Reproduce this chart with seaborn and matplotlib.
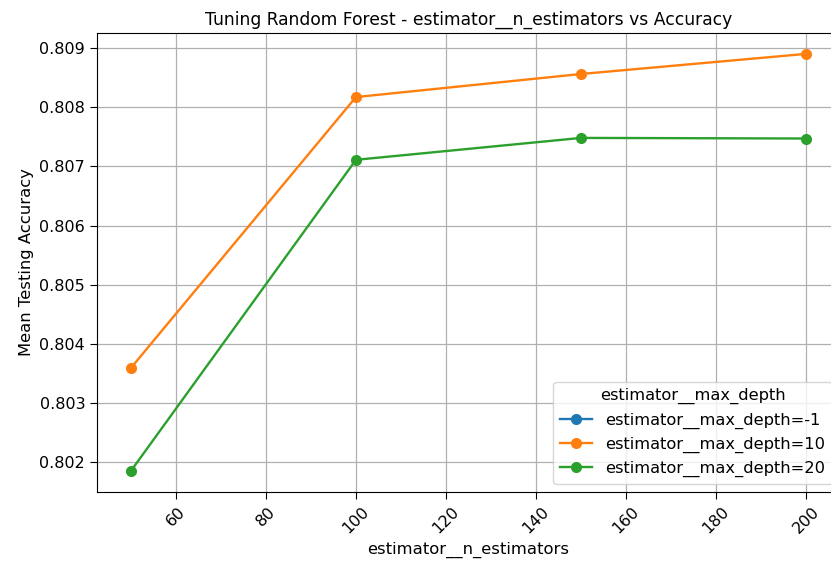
import numpy as np
import pandas as pd
import matplotlib
matplotlib.use("Agg")
import matplotlib.pyplot as plt
import seaborn as sns

n_estimators = [50, 100, 150, 200]
depth_labels = ["estimator__max_depth=-1", "estimator__max_depth=10", "estimator__max_depth=20"]
acc_depth_m1 = [np.nan, np.nan, np.nan, np.nan]
acc_depth_10 = [0.80359, 0.80817, 0.80856, 0.80890]
acc_depth_20 = [0.80185, 0.80711, 0.80748, 0.80747]

rows = []
for lab, vals in zip(depth_labels, [acc_depth_m1, acc_depth_10, acc_depth_20]):
    for n, v in zip(n_estimators, vals):
        rows.append({"n": n, "acc": v, "depth": lab})
df = pd.DataFrame(rows)

fig = plt.figure(figsize=(8.31, 5.67), dpi=100)
ax = fig.add_axes([97/831, 1-492/567, (840-97)/831, (492-33)/567])
palette = dict(zip(depth_labels, ["#1f77b4", "#ff7f0e", "#2ca02c"]))
for lab, vals in zip(depth_labels, [acc_depth_m1, acc_depth_10, acc_depth_20]):
    sub = df[df["depth"] == lab]
    if sub["acc"].notna().any():
        sns.lineplot(data=sub, x="n", y="acc", marker="o", markersize=8, color=palette[lab],
                     markeredgewidth=0, linewidth=1.7, label=lab, ax=ax)
    else:
        ax.plot(sub["n"], sub["acc"], marker="o", markersize=8, color=palette[lab],
                markeredgewidth=0, linewidth=1.7, label=lab)

ax.grid(True, color="#b0b0b0", linewidth=0.9)
ax.set_axisbelow(True)
ax.set_title("Tuning Random Forest - estimator__n_estimators vs Accuracy", fontsize=12.3)
ax.set_xlabel("estimator__n_estimators", fontsize=11.8)
ax.set_ylabel("Mean Testing Accuracy", fontsize=11.8)
ax.tick_params(axis="both", labelsize=11.5, length=5)
ax.tick_params(axis="x", labelrotation=45)
h, l = ax.get_legend_handles_labels()
ax.legend(h, l, title="estimator__max_depth", loc="lower right", fontsize=11.7, title_fontsize=11.7)
fig.savefig("out.png", dpi=100)
